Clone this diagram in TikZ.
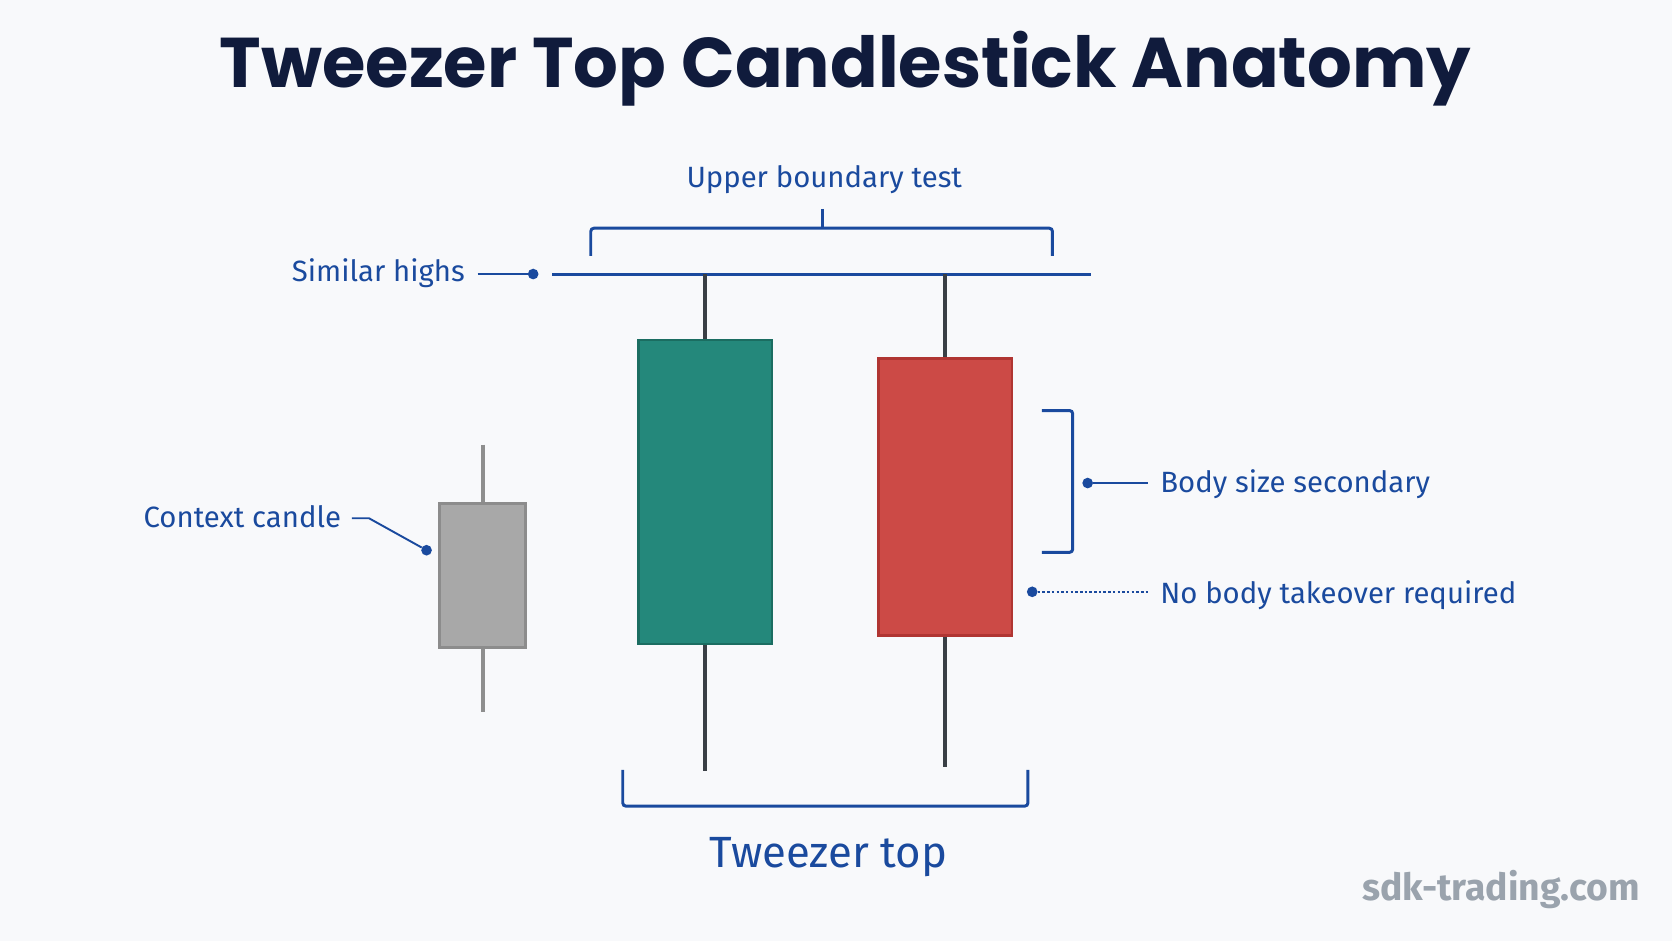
\documentclass[tikz,border=0pt]{standalone}
\usepackage{fontspec}
\setmainfont{Fira Sans}
\newfontfamily\titlefont{Poppins}
\definecolor{bgc}{HTML}{F8F9FB}
\definecolor{navy}{HTML}{101B3C}
\definecolor{lblue}{HTML}{1A4A9E}
\definecolor{gfill}{HTML}{24887B}
\definecolor{gdraw}{HTML}{1B6D61}
\definecolor{rfill}{HTML}{CC4A46}
\definecolor{rdraw}{HTML}{B03532}
\definecolor{cfill}{HTML}{A8A8A8}
\definecolor{cdraw}{HTML}{8C8C8C}
\definecolor{cwick}{HTML}{8E8E8E}
\definecolor{wick}{HTML}{3A3F45}
\definecolor{wmark}{HTML}{9AA3AD}
\begin{document}
\begin{tikzpicture}[x=1pt,y=-1pt,
  lbl/.style={text=lblue,font=\fontsize{27.5}{31}\selectfont,inner sep=0pt},
  blu/.style={draw=lblue,line width=2.8pt},
  dotend/.style={circle,fill=lblue,inner sep=0pt,minimum size=10pt},
  wk/.style={draw=wick,line width=4pt}]
\fill[bgc] (0,0) rectangle (1568,882);
\useasboundingbox (0,0) rectangle (1568,882);
\node[text=navy,font=\titlefont\bfseries\fontsize{66}{72}\selectfont] (title) at (793,64) {Tweezer Top Candlestick Anatomy};
% upper bracket
\node[lbl] (ubt) at (773,168) {Upper boundary test};
\coordinate (ut) at (771,196);
\draw[blu,rounded corners=3pt] (554,240) -- (554,214) -- (987,214) -- (987,240);
\draw[blu] (ut) -- (771,214);
% similar highs
\coordinate (hl) at (518,257); \coordinate (hr) at (1023,257);
\draw[blu] (hl) -- (hr);
\node[lbl,anchor=east] (sh) at (436,256) {Similar highs};
\node[dotend] (shd) at (500,257) {};
\draw[lblue,line width=1.8pt] (448,257) -- (shd);
% candles
\coordinate (g1) at (661,257); \coordinate (g2) at (661,723);
\draw[wk] (g1) -- (g2);
\node[draw=gdraw,fill=gfill,line width=2.5pt,minimum width=125pt,minimum height=285pt,inner sep=0pt] (green) at (661.5,461.5) {};
\coordinate (r1) at (886,257); \coordinate (r2) at (886,719);
\draw[wk] (r1) -- (r2);
\node[draw=rdraw,fill=rfill,line width=2.5pt,minimum width=125pt,minimum height=260pt,inner sep=0pt] (red) at (886.5,466) {};
\coordinate (c1) at (453,417); \coordinate (c2) at (453,668);
\draw[draw=cwick,line width=3.5pt] (c1) -- (c2);
\node[draw=cdraw,fill=cfill,line width=2.5pt,minimum width=81pt,minimum height=135pt,inner sep=0pt] (ctx) at (452.5,539.5) {};
% context label
\node[lbl,anchor=east] (ctxl) at (320,485) {Context candle};
\node[dotend] (ctxd) at (400,516) {};
\draw[lblue,line width=1.8pt] (330,486) -- (346,486) -- (ctxd);
% body size
\draw[blu,rounded corners=3pt] (977,385) -- (1006,385) -- (1006,518) -- (977,518);
\node[dotend] (bsd) at (1020,453) {};
\node[lbl,anchor=west] (bs) at (1088,454) {Body size secondary};
\draw[lblue,line width=2.2pt] (bsd) -- (1077,453);
% no body takeover
\node[dotend] (nbd) at (968,555) {};
\node[lbl,anchor=west] (nb) at (1088,558) {No body takeover required};
\draw[lblue,line width=2.4pt,dotted] (nbd) -- (1077,555);
% tweezer top bracket
\draw[blu,rounded corners=3pt] (584,722) -- (584,756) -- (964,756) -- (964,722);
\node[text=lblue,font=\fontsize{41}{46}\selectfont,inner sep=0pt] (tt) at (777,804) {Tweezer top};
% watermark
\node[text=wmark,font=\bfseries\fontsize{35}{40}\selectfont,anchor=east,inner sep=0pt] (wm) at (1538,834) {sdk-trading.com};
\end{tikzpicture}
\end{document}
